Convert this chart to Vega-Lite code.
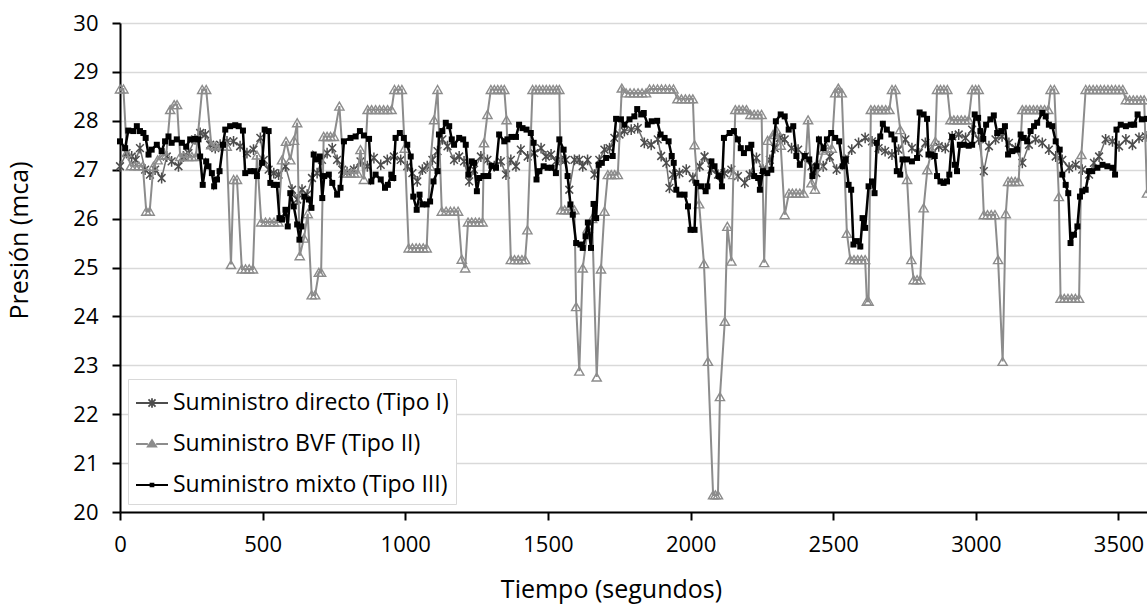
{
"$schema":"https://vega.github.io/schema/vega-lite/v6.json",
"width":1027,"height":489,
"autosize":{"type":"none"},
"padding":{"left":120,"top":23,"right":0,"bottom":96},
"background":"white",
"config":{"view":{"stroke":null},"font":"Open Sans"},
"data":{"values":[
{"s":"I","t":0,"p":27.07},{"s":"I","t":23,"p":27.34},{"s":"I","t":41,"p":27.27},{"s":"I","t":55,"p":27.2},{"s":"I","t":70,"p":27.44},{"s":"I","t":88,"p":27.0},{"s":"I","t":105,"p":26.9},{"s":"I","t":123,"p":27.0},{"s":"I","t":146,"p":26.83},{"s":"I","t":164,"p":27.27},{"s":"I","t":181,"p":27.17},{"s":"I","t":205,"p":27.07},{"s":"I","t":222,"p":27.27},{"s":"I","t":240,"p":27.34},{"s":"I","t":263,"p":27.62},{"s":"I","t":281,"p":27.75},{"s":"I","t":299,"p":27.72},{"s":"I","t":316,"p":27.51},{"s":"I","t":334,"p":27.44},{"s":"I","t":351,"p":27.51},{"s":"I","t":375,"p":27.58},{"s":"I","t":398,"p":27.58},{"s":"I","t":421,"p":27.48},{"s":"I","t":445,"p":27.34},{"s":"I","t":468,"p":27.41},{"s":"I","t":492,"p":27.65},{"s":"I","t":504,"p":27.2},{"s":"I","t":521,"p":27.0},{"s":"I","t":539,"p":26.93},{"s":"I","t":556,"p":26.9},{"s":"I","t":580,"p":27.07},{"s":"I","t":603,"p":26.59},{"s":"I","t":621,"p":26.39},{"s":"I","t":638,"p":26.59},{"s":"I","t":656,"p":26.49},{"s":"I","t":673,"p":26.83},{"s":"I","t":691,"p":26.93},{"s":"I","t":708,"p":27.2},{"s":"I","t":726,"p":27.34},{"s":"I","t":744,"p":27.44},{"s":"I","t":761,"p":27.2},{"s":"I","t":779,"p":27.0},{"s":"I","t":796,"p":26.95},{"s":"I","t":820,"p":27.0},{"s":"I","t":843,"p":27.17},{"s":"I","t":867,"p":27.07},{"s":"I","t":890,"p":27.24},{"s":"I","t":914,"p":27.1},{"s":"I","t":937,"p":27.2},{"s":"I","t":960,"p":27.27},{"s":"I","t":984,"p":27.2},{"s":"I","t":1007,"p":27.07},{"s":"I","t":1025,"p":26.93},{"s":"I","t":1042,"p":26.76},{"s":"I","t":1060,"p":27.0},{"s":"I","t":1077,"p":27.07},{"s":"I","t":1095,"p":27.2},{"s":"I","t":1113,"p":27.38},{"s":"I","t":1130,"p":27.62},{"s":"I","t":1148,"p":27.48},{"s":"I","t":1171,"p":27.2},{"s":"I","t":1189,"p":27.27},{"s":"I","t":1206,"p":27.17},{"s":"I","t":1224,"p":26.76},{"s":"I","t":1241,"p":27.0},{"s":"I","t":1265,"p":27.27},{"s":"I","t":1288,"p":27.2},{"s":"I","t":1312,"p":27.07},{"s":"I","t":1335,"p":27.17},{"s":"I","t":1353,"p":26.9},{"s":"I","t":1370,"p":27.2},{"s":"I","t":1388,"p":27.07},{"s":"I","t":1405,"p":27.41},{"s":"I","t":1429,"p":27.27},{"s":"I","t":1452,"p":27.34},{"s":"I","t":1476,"p":27.44},{"s":"I","t":1493,"p":27.27},{"s":"I","t":1511,"p":27.31},{"s":"I","t":1528,"p":27.17},{"s":"I","t":1546,"p":27.2},{"s":"I","t":1563,"p":27.2},{"s":"I","t":1575,"p":26.59},{"s":"I","t":1593,"p":27.2},{"s":"I","t":1610,"p":27.2},{"s":"I","t":1622,"p":27.07},{"s":"I","t":1639,"p":27.2},{"s":"I","t":1663,"p":26.9},{"s":"I","t":1680,"p":27.2},{"s":"I","t":1698,"p":27.41},{"s":"I","t":1716,"p":27.44},{"s":"I","t":1733,"p":27.65},{"s":"I","t":1751,"p":27.72},{"s":"I","t":1768,"p":27.79},{"s":"I","t":1792,"p":27.82},{"s":"I","t":1815,"p":27.85},{"s":"I","t":1838,"p":27.55},{"s":"I","t":1862,"p":27.51},{"s":"I","t":1885,"p":27.62},{"s":"I","t":1897,"p":27.28},{"s":"I","t":1915,"p":27.14},{"s":"I","t":1926,"p":26.63},{"s":"I","t":1938,"p":26.9},{"s":"I","t":1961,"p":26.93},{"s":"I","t":1985,"p":27.0},{"s":"I","t":2008,"p":26.83},{"s":"I","t":2032,"p":27.07},{"s":"I","t":2049,"p":27.27},{"s":"I","t":2073,"p":27.0},{"s":"I","t":2096,"p":26.9},{"s":"I","t":2119,"p":26.93},{"s":"I","t":2143,"p":27.0},{"s":"I","t":2166,"p":26.87},{"s":"I","t":2190,"p":26.73},{"s":"I","t":2207,"p":26.9},{"s":"I","t":2231,"p":27.24},{"s":"I","t":2254,"p":27.0},{"s":"I","t":2278,"p":27.2},{"s":"I","t":2295,"p":27.44},{"s":"I","t":2313,"p":27.65},{"s":"I","t":2330,"p":27.62},{"s":"I","t":2354,"p":27.44},{"s":"I","t":2377,"p":27.41},{"s":"I","t":2401,"p":27.27},{"s":"I","t":2424,"p":27.07},{"s":"I","t":2441,"p":26.93},{"s":"I","t":2465,"p":27.07},{"s":"I","t":2488,"p":27.27},{"s":"I","t":2512,"p":27.0},{"s":"I","t":2542,"p":27.2},{"s":"I","t":2565,"p":27.41},{"s":"I","t":2589,"p":27.55},{"s":"I","t":2612,"p":27.65},{"s":"I","t":2636,"p":27.58},{"s":"I","t":2659,"p":27.44},{"s":"I","t":2682,"p":27.38},{"s":"I","t":2706,"p":27.31},{"s":"I","t":2729,"p":27.41},{"s":"I","t":2753,"p":27.62},{"s":"I","t":2776,"p":27.44},{"s":"I","t":2800,"p":27.34},{"s":"I","t":2823,"p":27.55},{"s":"I","t":2846,"p":27.31},{"s":"I","t":2870,"p":27.48},{"s":"I","t":2893,"p":27.44},{"s":"I","t":2917,"p":27.68},{"s":"I","t":2940,"p":27.72},{"s":"I","t":2964,"p":27.65},{"s":"I","t":2987,"p":27.82},{"s":"I","t":3010,"p":27.62},{"s":"I","t":3028,"p":26.97},{"s":"I","t":3046,"p":27.48},{"s":"I","t":3069,"p":27.62},{"s":"I","t":3092,"p":27.68},{"s":"I","t":3116,"p":27.55},{"s":"I","t":3139,"p":27.44},{"s":"I","t":3163,"p":27.14},{"s":"I","t":3186,"p":27.51},{"s":"I","t":3209,"p":27.62},{"s":"I","t":3233,"p":27.55},{"s":"I","t":3256,"p":27.41},{"s":"I","t":3280,"p":27.27},{"s":"I","t":3303,"p":27.2},{"s":"I","t":3327,"p":27.04},{"s":"I","t":3350,"p":27.1},{"s":"I","t":3373,"p":27.0},{"s":"I","t":3397,"p":26.9},{"s":"I","t":3414,"p":27.14},{"s":"I","t":3432,"p":27.27},{"s":"I","t":3455,"p":27.62},{"s":"I","t":3479,"p":27.58},{"s":"I","t":3502,"p":27.48},{"s":"I","t":3526,"p":27.62},{"s":"I","t":3549,"p":27.51},{"s":"I","t":3572,"p":27.65},{"s":"I","t":3596,"p":27.68},
{"s":"II","t":0,"p":28.65},{"s":"II","t":12,"p":28.65},{"s":"II","t":24,"p":27.35},{"s":"II","t":38,"p":27.08},{"s":"II","t":52,"p":27.08},{"s":"II","t":66,"p":27.08},{"s":"II","t":80,"p":27.08},{"s":"II","t":92,"p":26.15},{"s":"II","t":104,"p":26.15},{"s":"II","t":117,"p":27.07},{"s":"II","t":132,"p":27.2},{"s":"II","t":148,"p":27.3},{"s":"II","t":162,"p":27.3},{"s":"II","t":176,"p":28.23},{"s":"II","t":190,"p":28.33},{"s":"II","t":200,"p":28.33},{"s":"II","t":211,"p":27.27},{"s":"II","t":224,"p":27.27},{"s":"II","t":238,"p":27.27},{"s":"II","t":252,"p":27.27},{"s":"II","t":266,"p":27.27},{"s":"II","t":288,"p":28.64},{"s":"II","t":302,"p":28.64},{"s":"II","t":320,"p":27.51},{"s":"II","t":334,"p":27.48},{"s":"II","t":348,"p":27.48},{"s":"II","t":362,"p":27.48},{"s":"II","t":374,"p":27.48},{"s":"II","t":389,"p":25.06},{"s":"II","t":398,"p":26.8},{"s":"II","t":410,"p":26.8},{"s":"II","t":427,"p":24.97},{"s":"II","t":440,"p":24.97},{"s":"II","t":453,"p":24.97},{"s":"II","t":466,"p":24.97},{"s":"II","t":480,"p":27.3},{"s":"II","t":495,"p":25.93},{"s":"II","t":510,"p":25.93},{"s":"II","t":525,"p":25.93},{"s":"II","t":540,"p":25.93},{"s":"II","t":555,"p":25.93},{"s":"II","t":568,"p":27.2},{"s":"II","t":582,"p":27.58},{"s":"II","t":597,"p":27.2},{"s":"II","t":610,"p":27.6},{"s":"II","t":621,"p":27.96},{"s":"II","t":630,"p":25.24},{"s":"II","t":645,"p":25.6},{"s":"II","t":658,"p":26.1},{"s":"II","t":672,"p":24.44},{"s":"II","t":684,"p":24.44},{"s":"II","t":697,"p":24.9},{"s":"II","t":705,"p":24.9},{"s":"II","t":714,"p":27.68},{"s":"II","t":726,"p":27.68},{"s":"II","t":738,"p":27.68},{"s":"II","t":750,"p":27.68},{"s":"II","t":769,"p":28.3},{"s":"II","t":785,"p":26.93},{"s":"II","t":797,"p":26.93},{"s":"II","t":809,"p":26.93},{"s":"II","t":821,"p":26.93},{"s":"II","t":833,"p":26.93},{"s":"II","t":843,"p":27.41},{"s":"II","t":855,"p":26.8},{"s":"II","t":868,"p":28.23},{"s":"II","t":882,"p":28.23},{"s":"II","t":896,"p":28.23},{"s":"II","t":910,"p":28.23},{"s":"II","t":924,"p":28.23},{"s":"II","t":938,"p":28.23},{"s":"II","t":952,"p":28.23},{"s":"II","t":962,"p":28.64},{"s":"II","t":976,"p":28.64},{"s":"II","t":988,"p":28.64},{"s":"II","t":998,"p":27.44},{"s":"II","t":1012,"p":25.4},{"s":"II","t":1025,"p":25.4},{"s":"II","t":1038,"p":25.4},{"s":"II","t":1050,"p":25.4},{"s":"II","t":1063,"p":25.4},{"s":"II","t":1075,"p":25.4},{"s":"II","t":1087,"p":27.07},{"s":"II","t":1101,"p":28.02},{"s":"II","t":1113,"p":28.64},{"s":"II","t":1128,"p":26.15},{"s":"II","t":1143,"p":26.15},{"s":"II","t":1158,"p":26.15},{"s":"II","t":1171,"p":26.15},{"s":"II","t":1185,"p":26.15},{"s":"II","t":1198,"p":25.17},{"s":"II","t":1210,"p":24.99},{"s":"II","t":1220,"p":25.93},{"s":"II","t":1233,"p":25.93},{"s":"II","t":1246,"p":25.93},{"s":"II","t":1259,"p":25.93},{"s":"II","t":1271,"p":25.93},{"s":"II","t":1276,"p":27.55},{"s":"II","t":1288,"p":28.13},{"s":"II","t":1300,"p":28.64},{"s":"II","t":1312,"p":28.64},{"s":"II","t":1324,"p":28.64},{"s":"II","t":1336,"p":28.64},{"s":"II","t":1347,"p":28.64},{"s":"II","t":1355,"p":28.02},{"s":"II","t":1370,"p":25.16},{"s":"II","t":1383,"p":25.16},{"s":"II","t":1396,"p":25.16},{"s":"II","t":1409,"p":25.16},{"s":"II","t":1420,"p":25.16},{"s":"II","t":1428,"p":25.77},{"s":"II","t":1446,"p":28.64},{"s":"II","t":1458,"p":28.64},{"s":"II","t":1470,"p":28.64},{"s":"II","t":1482,"p":28.64},{"s":"II","t":1494,"p":28.64},{"s":"II","t":1506,"p":28.64},{"s":"II","t":1518,"p":28.64},{"s":"II","t":1530,"p":28.64},{"s":"II","t":1540,"p":28.64},{"s":"II","t":1547,"p":26.18},{"s":"II","t":1559,"p":26.18},{"s":"II","t":1571,"p":26.18},{"s":"II","t":1583,"p":26.18},{"s":"II","t":1593,"p":26.18},{"s":"II","t":1599,"p":24.2},{"s":"II","t":1610,"p":22.88},{"s":"II","t":1622,"p":24.99},{"s":"II","t":1640,"p":25.8},{"s":"II","t":1655,"p":26.0},{"s":"II","t":1671,"p":22.76},{"s":"II","t":1686,"p":24.97},{"s":"II","t":1698,"p":26.15},{"s":"II","t":1710,"p":26.9},{"s":"II","t":1722,"p":26.9},{"s":"II","t":1734,"p":26.9},{"s":"II","t":1745,"p":26.9},{"s":"II","t":1759,"p":28.67},{"s":"II","t":1774,"p":28.57},{"s":"II","t":1788,"p":28.57},{"s":"II","t":1802,"p":28.57},{"s":"II","t":1816,"p":28.57},{"s":"II","t":1830,"p":28.57},{"s":"II","t":1844,"p":28.57},{"s":"II","t":1856,"p":28.65},{"s":"II","t":1870,"p":28.65},{"s":"II","t":1884,"p":28.65},{"s":"II","t":1898,"p":28.65},{"s":"II","t":1912,"p":28.65},{"s":"II","t":1926,"p":28.65},{"s":"II","t":1940,"p":28.65},{"s":"II","t":1954,"p":28.45},{"s":"II","t":1968,"p":28.45},{"s":"II","t":1982,"p":28.45},{"s":"II","t":1996,"p":28.45},{"s":"II","t":2008,"p":28.45},{"s":"II","t":2014,"p":27.51},{"s":"II","t":2030,"p":26.3},{"s":"II","t":2047,"p":25.08},{"s":"II","t":2061,"p":23.08},{"s":"II","t":2079,"p":20.35},{"s":"II","t":2087,"p":20.35},{"s":"II","t":2096,"p":20.35},{"s":"II","t":2103,"p":22.36},{"s":"II","t":2120,"p":23.9},{"s":"II","t":2129,"p":25.84},{"s":"II","t":2143,"p":25.13},{"s":"II","t":2150,"p":26.9},{"s":"II","t":2157,"p":28.23},{"s":"II","t":2170,"p":28.23},{"s":"II","t":2183,"p":28.23},{"s":"II","t":2196,"p":28.23},{"s":"II","t":2210,"p":28.13},{"s":"II","t":2223,"p":28.13},{"s":"II","t":2236,"p":28.13},{"s":"II","t":2249,"p":28.13},{"s":"II","t":2258,"p":25.1},{"s":"II","t":2270,"p":27.6},{"s":"II","t":2289,"p":27.72},{"s":"II","t":2302,"p":27.8},{"s":"II","t":2316,"p":27.5},{"s":"II","t":2330,"p":26.08},{"s":"II","t":2345,"p":26.52},{"s":"II","t":2357,"p":26.52},{"s":"II","t":2370,"p":26.52},{"s":"II","t":2383,"p":26.52},{"s":"II","t":2396,"p":26.52},{"s":"II","t":2412,"p":28.02},{"s":"II","t":2424,"p":26.73},{"s":"II","t":2436,"p":26.6},{"s":"II","t":2450,"p":27.1},{"s":"II","t":2465,"p":27.4},{"s":"II","t":2480,"p":27.44},{"s":"II","t":2495,"p":27.44},{"s":"II","t":2507,"p":28.57},{"s":"II","t":2518,"p":28.67},{"s":"II","t":2530,"p":28.57},{"s":"II","t":2548,"p":25.7},{"s":"II","t":2560,"p":25.16},{"s":"II","t":2573,"p":25.16},{"s":"II","t":2586,"p":25.16},{"s":"II","t":2599,"p":25.16},{"s":"II","t":2612,"p":25.16},{"s":"II","t":2618,"p":24.31},{"s":"II","t":2624,"p":24.31},{"s":"II","t":2632,"p":28.23},{"s":"II","t":2645,"p":28.23},{"s":"II","t":2658,"p":28.23},{"s":"II","t":2671,"p":28.23},{"s":"II","t":2684,"p":28.23},{"s":"II","t":2697,"p":28.23},{"s":"II","t":2706,"p":28.64},{"s":"II","t":2718,"p":28.64},{"s":"II","t":2735,"p":27.82},{"s":"II","t":2759,"p":26.8},{"s":"II","t":2774,"p":25.16},{"s":"II","t":2782,"p":24.75},{"s":"II","t":2794,"p":24.75},{"s":"II","t":2805,"p":24.75},{"s":"II","t":2817,"p":26.22},{"s":"II","t":2830,"p":27.0},{"s":"II","t":2845,"p":27.4},{"s":"II","t":2858,"p":27.58},{"s":"II","t":2864,"p":28.64},{"s":"II","t":2876,"p":28.64},{"s":"II","t":2888,"p":28.64},{"s":"II","t":2900,"p":28.64},{"s":"II","t":2911,"p":28.02},{"s":"II","t":2923,"p":28.02},{"s":"II","t":2936,"p":28.02},{"s":"II","t":2949,"p":28.02},{"s":"II","t":2962,"p":28.02},{"s":"II","t":2975,"p":28.02},{"s":"II","t":2987,"p":28.64},{"s":"II","t":2999,"p":28.64},{"s":"II","t":3010,"p":28.64},{"s":"II","t":3028,"p":26.08},{"s":"II","t":3041,"p":26.08},{"s":"II","t":3054,"p":26.08},{"s":"II","t":3067,"p":26.08},{"s":"II","t":3078,"p":25.16},{"s":"II","t":3094,"p":23.08},{"s":"II","t":3105,"p":26.1},{"s":"II","t":3113,"p":26.76},{"s":"II","t":3125,"p":26.76},{"s":"II","t":3138,"p":26.76},{"s":"II","t":3150,"p":26.76},{"s":"II","t":3163,"p":28.23},{"s":"II","t":3176,"p":28.23},{"s":"II","t":3189,"p":28.23},{"s":"II","t":3202,"p":28.23},{"s":"II","t":3215,"p":28.23},{"s":"II","t":3228,"p":28.23},{"s":"II","t":3241,"p":28.23},{"s":"II","t":3254,"p":28.23},{"s":"II","t":3262,"p":28.64},{"s":"II","t":3275,"p":28.64},{"s":"II","t":3291,"p":26.45},{"s":"II","t":3297,"p":24.37},{"s":"II","t":3310,"p":24.37},{"s":"II","t":3323,"p":24.37},{"s":"II","t":3336,"p":24.37},{"s":"II","t":3349,"p":24.37},{"s":"II","t":3362,"p":24.37},{"s":"II","t":3370,"p":27.31},{"s":"II","t":3385,"p":28.64},{"s":"II","t":3398,"p":28.64},{"s":"II","t":3411,"p":28.64},{"s":"II","t":3424,"p":28.64},{"s":"II","t":3437,"p":28.64},{"s":"II","t":3450,"p":28.64},{"s":"II","t":3463,"p":28.64},{"s":"II","t":3476,"p":28.64},{"s":"II","t":3489,"p":28.64},{"s":"II","t":3502,"p":28.64},{"s":"II","t":3515,"p":28.64},{"s":"II","t":3526,"p":28.43},{"s":"II","t":3539,"p":28.43},{"s":"II","t":3552,"p":28.43},{"s":"II","t":3565,"p":28.43},{"s":"II","t":3578,"p":28.43},{"s":"II","t":3590,"p":28.43},{"s":"II","t":3600,"p":26.52},
{"s":"III","t":0,"p":27.58},{"s":"III","t":18,"p":27.44},{"s":"III","t":29,"p":27.8},{"s":"III","t":47,"p":27.79},{"s":"III","t":59,"p":27.89},{"s":"III","t":70,"p":27.79},{"s":"III","t":82,"p":27.75},{"s":"III","t":90,"p":27.65},{"s":"III","t":100,"p":27.31},{"s":"III","t":111,"p":27.41},{"s":"III","t":129,"p":27.51},{"s":"III","t":146,"p":27.38},{"s":"III","t":158,"p":27.58},{"s":"III","t":170,"p":27.68},{"s":"III","t":181,"p":27.55},{"s":"III","t":199,"p":27.62},{"s":"III","t":217,"p":27.55},{"s":"III","t":232,"p":27.47},{"s":"III","t":246,"p":27.62},{"s":"III","t":263,"p":27.63},{"s":"III","t":275,"p":27.62},{"s":"III","t":281,"p":27.27},{"s":"III","t":290,"p":26.69},{"s":"III","t":302,"p":27.17},{"s":"III","t":310,"p":27.07},{"s":"III","t":322,"p":26.93},{"s":"III","t":330,"p":26.66},{"s":"III","t":340,"p":26.8},{"s":"III","t":349,"p":26.97},{"s":"III","t":361,"p":27.51},{"s":"III","t":369,"p":27.82},{"s":"III","t":386,"p":27.89},{"s":"III","t":404,"p":27.91},{"s":"III","t":416,"p":27.89},{"s":"III","t":431,"p":27.8},{"s":"III","t":439,"p":26.93},{"s":"III","t":457,"p":26.97},{"s":"III","t":471,"p":26.97},{"s":"III","t":480,"p":26.87},{"s":"III","t":498,"p":27.14},{"s":"III","t":507,"p":27.82},{"s":"III","t":521,"p":27.79},{"s":"III","t":527,"p":26.73},{"s":"III","t":539,"p":26.69},{"s":"III","t":550,"p":26.69},{"s":"III","t":559,"p":26.01},{"s":"III","t":568,"p":25.98},{"s":"III","t":580,"p":26.18},{"s":"III","t":588,"p":25.84},{"s":"III","t":597,"p":26.52},{"s":"III","t":609,"p":26.25},{"s":"III","t":621,"p":25.88},{"s":"III","t":629,"p":25.57},{"s":"III","t":636,"p":25.84},{"s":"III","t":646,"p":26.45},{"s":"III","t":662,"p":26.39},{"s":"III","t":671,"p":26.22},{"s":"III","t":679,"p":27.31},{"s":"III","t":688,"p":27.21},{"s":"III","t":700,"p":27.27},{"s":"III","t":709,"p":26.42},{"s":"III","t":716,"p":26.87},{"s":"III","t":732,"p":26.9},{"s":"III","t":744,"p":26.73},{"s":"III","t":761,"p":26.49},{"s":"III","t":773,"p":26.63},{"s":"III","t":785,"p":27.58},{"s":"III","t":808,"p":27.65},{"s":"III","t":826,"p":27.68},{"s":"III","t":841,"p":27.79},{"s":"III","t":855,"p":27.7},{"s":"III","t":873,"p":27.63},{"s":"III","t":881,"p":26.76},{"s":"III","t":896,"p":26.9},{"s":"III","t":914,"p":26.8},{"s":"III","t":929,"p":26.63},{"s":"III","t":939,"p":26.69},{"s":"III","t":951,"p":26.9},{"s":"III","t":958,"p":26.83},{"s":"III","t":966,"p":27.65},{"s":"III","t":981,"p":27.75},{"s":"III","t":995,"p":27.65},{"s":"III","t":1007,"p":27.51},{"s":"III","t":1019,"p":27.27},{"s":"III","t":1028,"p":26.45},{"s":"III","t":1040,"p":26.18},{"s":"III","t":1050,"p":26.49},{"s":"III","t":1060,"p":26.29},{"s":"III","t":1075,"p":26.29},{"s":"III","t":1087,"p":26.35},{"s":"III","t":1099,"p":26.76},{"s":"III","t":1113,"p":26.97},{"s":"III","t":1118,"p":27.72},{"s":"III","t":1130,"p":27.79},{"s":"III","t":1142,"p":27.96},{"s":"III","t":1154,"p":27.89},{"s":"III","t":1163,"p":27.62},{"s":"III","t":1171,"p":27.51},{"s":"III","t":1189,"p":27.65},{"s":"III","t":1203,"p":27.62},{"s":"III","t":1212,"p":27.51},{"s":"III","t":1221,"p":26.9},{"s":"III","t":1233,"p":27.17},{"s":"III","t":1241,"p":27.14},{"s":"III","t":1251,"p":26.56},{"s":"III","t":1259,"p":26.83},{"s":"III","t":1274,"p":26.87},{"s":"III","t":1291,"p":26.87},{"s":"III","t":1302,"p":27.08},{"s":"III","t":1318,"p":27.04},{"s":"III","t":1329,"p":27.72},{"s":"III","t":1347,"p":27.58},{"s":"III","t":1358,"p":27.62},{"s":"III","t":1372,"p":27.67},{"s":"III","t":1388,"p":27.67},{"s":"III","t":1399,"p":27.92},{"s":"III","t":1411,"p":27.85},{"s":"III","t":1425,"p":27.82},{"s":"III","t":1440,"p":27.75},{"s":"III","t":1450,"p":27.55},{"s":"III","t":1460,"p":26.8},{"s":"III","t":1470,"p":26.97},{"s":"III","t":1485,"p":27.07},{"s":"III","t":1499,"p":27.04},{"s":"III","t":1513,"p":27.04},{"s":"III","t":1528,"p":26.93},{"s":"III","t":1540,"p":27.62},{"s":"III","t":1555,"p":27.41},{"s":"III","t":1569,"p":26.87},{"s":"III","t":1579,"p":26.29},{"s":"III","t":1587,"p":26.08},{"s":"III","t":1599,"p":25.5},{"s":"III","t":1614,"p":25.47},{"s":"III","t":1622,"p":25.4},{"s":"III","t":1632,"p":25.64},{"s":"III","t":1640,"p":25.92},{"s":"III","t":1651,"p":25.4},{"s":"III","t":1660,"p":26.3},{"s":"III","t":1669,"p":26.01},{"s":"III","t":1678,"p":27.1},{"s":"III","t":1689,"p":27.14},{"s":"III","t":1704,"p":27.24},{"s":"III","t":1727,"p":27.28},{"s":"III","t":1739,"p":28.04},{"s":"III","t":1756,"p":28.03},{"s":"III","t":1768,"p":27.92},{"s":"III","t":1786,"p":28.03},{"s":"III","t":1803,"p":28.09},{"s":"III","t":1813,"p":28.24},{"s":"III","t":1827,"p":28.13},{"s":"III","t":1836,"p":28.16},{"s":"III","t":1850,"p":27.92},{"s":"III","t":1864,"p":27.99},{"s":"III","t":1883,"p":28.0},{"s":"III","t":1895,"p":27.72},{"s":"III","t":1909,"p":27.65},{"s":"III","t":1923,"p":27.58},{"s":"III","t":1934,"p":27.28},{"s":"III","t":1941,"p":27.14},{"s":"III","t":1950,"p":26.59},{"s":"III","t":1961,"p":26.49},{"s":"III","t":1979,"p":26.49},{"s":"III","t":1991,"p":26.25},{"s":"III","t":2000,"p":25.77},{"s":"III","t":2014,"p":25.77},{"s":"III","t":2020,"p":26.73},{"s":"III","t":2037,"p":26.66},{"s":"III","t":2053,"p":26.56},{"s":"III","t":2059,"p":26.66},{"s":"III","t":2073,"p":27.17},{"s":"III","t":2084,"p":27.07},{"s":"III","t":2098,"p":26.87},{"s":"III","t":2110,"p":26.66},{"s":"III","t":2117,"p":27.65},{"s":"III","t":2137,"p":27.75},{"s":"III","t":2152,"p":27.79},{"s":"III","t":2166,"p":27.62},{"s":"III","t":2176,"p":27.44},{"s":"III","t":2187,"p":27.34},{"s":"III","t":2201,"p":27.44},{"s":"III","t":2213,"p":27.51},{"s":"III","t":2223,"p":26.87},{"s":"III","t":2237,"p":26.83},{"s":"III","t":2243,"p":26.59},{"s":"III","t":2254,"p":26.97},{"s":"III","t":2269,"p":26.93},{"s":"III","t":2283,"p":27.0},{"s":"III","t":2299,"p":27.99},{"s":"III","t":2316,"p":28.13},{"s":"III","t":2330,"p":28.09},{"s":"III","t":2344,"p":27.82},{"s":"III","t":2360,"p":27.89},{"s":"III","t":2371,"p":27.28},{"s":"III","t":2383,"p":27.1},{"s":"III","t":2400,"p":27.28},{"s":"III","t":2416,"p":27.21},{"s":"III","t":2427,"p":26.87},{"s":"III","t":2441,"p":27.07},{"s":"III","t":2450,"p":27.62},{"s":"III","t":2466,"p":27.44},{"s":"III","t":2478,"p":27.62},{"s":"III","t":2493,"p":27.75},{"s":"III","t":2507,"p":27.65},{"s":"III","t":2521,"p":27.58},{"s":"III","t":2533,"p":27.07},{"s":"III","t":2544,"p":27.21},{"s":"III","t":2554,"p":26.69},{"s":"III","t":2563,"p":26.59},{"s":"III","t":2571,"p":25.47},{"s":"III","t":2583,"p":25.54},{"s":"III","t":2595,"p":25.43},{"s":"III","t":2603,"p":26.01},{"s":"III","t":2612,"p":25.81},{"s":"III","t":2624,"p":26.66},{"s":"III","t":2636,"p":26.76},{"s":"III","t":2645,"p":26.52},{"s":"III","t":2653,"p":27.55},{"s":"III","t":2665,"p":27.68},{"s":"III","t":2674,"p":27.94},{"s":"III","t":2688,"p":27.82},{"s":"III","t":2704,"p":27.72},{"s":"III","t":2715,"p":27.62},{"s":"III","t":2723,"p":26.97},{"s":"III","t":2735,"p":26.9},{"s":"III","t":2743,"p":27.21},{"s":"III","t":2759,"p":27.21},{"s":"III","t":2776,"p":27.17},{"s":"III","t":2794,"p":27.24},{"s":"III","t":2803,"p":28.17},{"s":"III","t":2817,"p":28.13},{"s":"III","t":2829,"p":28.04},{"s":"III","t":2834,"p":27.31},{"s":"III","t":2844,"p":27.31},{"s":"III","t":2856,"p":27.28},{"s":"III","t":2864,"p":26.87},{"s":"III","t":2876,"p":26.76},{"s":"III","t":2887,"p":26.73},{"s":"III","t":2899,"p":26.76},{"s":"III","t":2907,"p":26.9},{"s":"III","t":2917,"p":27.67},{"s":"III","t":2926,"p":27.1},{"s":"III","t":2934,"p":26.97},{"s":"III","t":2944,"p":27.51},{"s":"III","t":2958,"p":27.51},{"s":"III","t":2975,"p":27.49},{"s":"III","t":2987,"p":27.51},{"s":"III","t":2996,"p":28.13},{"s":"III","t":3008,"p":28.06},{"s":"III","t":3016,"p":27.79},{"s":"III","t":3026,"p":27.63},{"s":"III","t":3036,"p":27.92},{"s":"III","t":3051,"p":28.03},{"s":"III","t":3063,"p":28.11},{"s":"III","t":3075,"p":27.75},{"s":"III","t":3089,"p":27.79},{"s":"III","t":3102,"p":27.89},{"s":"III","t":3113,"p":27.31},{"s":"III","t":3127,"p":27.38},{"s":"III","t":3145,"p":27.41},{"s":"III","t":3157,"p":27.72},{"s":"III","t":3168,"p":27.65},{"s":"III","t":3180,"p":27.58},{"s":"III","t":3192,"p":27.79},{"s":"III","t":3204,"p":27.89},{"s":"III","t":3215,"p":27.96},{"s":"III","t":3233,"p":28.16},{"s":"III","t":3245,"p":28.09},{"s":"III","t":3256,"p":27.92},{"s":"III","t":3268,"p":27.89},{"s":"III","t":3280,"p":27.58},{"s":"III","t":3294,"p":27.41},{"s":"III","t":3303,"p":26.9},{"s":"III","t":3315,"p":26.69},{"s":"III","t":3324,"p":26.52},{"s":"III","t":3332,"p":25.5},{"s":"III","t":3344,"p":25.67},{"s":"III","t":3356,"p":25.84},{"s":"III","t":3365,"p":26.45},{"s":"III","t":3373,"p":26.56},{"s":"III","t":3385,"p":26.59},{"s":"III","t":3397,"p":26.97},{"s":"III","t":3408,"p":26.97},{"s":"III","t":3426,"p":27.04},{"s":"III","t":3444,"p":27.1},{"s":"III","t":3461,"p":27.07},{"s":"III","t":3479,"p":27.04},{"s":"III","t":3488,"p":26.9},{"s":"III","t":3493,"p":27.82},{"s":"III","t":3508,"p":27.92},{"s":"III","t":3526,"p":27.89},{"s":"III","t":3543,"p":27.92},{"s":"III","t":3555,"p":27.92},{"s":"III","t":3567,"p":28.13},{"s":"III","t":3582,"p":28.03},{"s":"III","t":3600,"p":28.04}
]},
"encoding":{
"x":{"field":"t","type":"quantitative","scale":{"domain":[0,3600],"nice":false},
"axis":{"title":"Tiempo (segundos)","format":"d","grid":false,"values":[0,500,1000,1500,2000,2500,3000,3500],"labelFontSize":22,"labelColor":"#000","labelPadding":14,"labelOverlap":false,"labelFlush":false,"domainColor":"#000","domainWidth":2,"tickColor":"#000","tickWidth":2,"tickSize":8,"titleFontSize":25,"titleFontWeight":"normal","titleColor":"#000","titleX":491,"titleY":85,"titleBaseline":"alphabetic","titleAlign":"center","titleAnchor":null}},
"y":{"field":"p","type":"quantitative","scale":{"domain":[20,30],"nice":false,"zero":false},
"axis":{"title":"Presión (mca)","format":"d","values":[20,21,22,23,24,25,26,27,28,29,30],"grid":true,"gridColor":"#d9d9d9","gridWidth":1.5,"labelFontSize":22,"labelColor":"#000","labelPadding":14,"labelOverlap":false,"labelFlush":false,"domainColor":"#000","domainWidth":2,"tickColor":"#000","tickWidth":2,"tickSize":8,"titleFontSize":25,"titleFontWeight":"normal","titleColor":"#000","titleX":-93,"titleY":217,"titleAngle":-90,"titleBaseline":"alphabetic","titleAlign":"center","titleAnchor":null}}
},
"layer":[
{"transform":[{"filter":"datum.s == 'I'"}],"mark":{"type":"line","strokeWidth":1.5,"color":"#6f6f6f"}},
{"transform":[{"filter":"datum.s == 'I'"}],"mark":{"type":"point","shape":"M-1,-1L1,1M-1,1L1,-1M0,-1.4V1.4","filled":false,"size":60,"strokeWidth":1.5,"opacity":1},
 "encoding":{"color":{"field":"s","type":"nominal","scale":{"domain":["I","II","III"],"range":["#4d4d4d","#8c8c8c","#000000"]},
 "legend":{"orient":"bottom-left","offset":8,"title":null,
  "labelExpr":"datum.value == 'I' ? 'Suministro directo (Tipo I)' : datum.value == 'II' ? 'Suministro BVF (Tipo II)' : 'Suministro mixto (Tipo III)'",
  "labelFont":"Open Sans","labelFontSize":23,"labelColor":"#000","labelLimit":400,
  "strokeColor":"#d9d9d9","fillColor":"white","padding":7,"rowPadding":12,"labelOffset":4,"symbolSize":1024,
  "encoding":{"symbols":{
   "shape":{"value":{"expr":"datum.value == 'I' ? 'M-1,0H1M-0.22,-0.22L0.22,0.22M-0.22,0.22L0.22,-0.22M0,-0.3V0.3' : datum.value == 'II' ? 'M-1,0H-0.26M0.26,0H1M-0.26,0.16L0,-0.24L0.26,0.16Z' : 'M-1,0H1M-0.09,-0.09H0.09V0.09H-0.09Z'"}},
   "stroke":{"value":{"expr":"datum.value == 'I' ? '#595959' : datum.value == 'II' ? '#8c8c8c' : '#000000'"}},
   "fill":{"value":{"expr":"datum.value == 'III' ? '#000000' : '#ffffff'"}},
   "strokeWidth":{"value":1.8},"opacity":{"value":1}}}}}}},
{"transform":[{"filter":"datum.s == 'II'"}],"mark":{"type":"line","strokeWidth":2,"color":"#8c8c8c"}},
{"transform":[{"filter":"datum.s == 'II'"}],"mark":{"type":"point","shape":"triangle-up","filled":false,"size":85,"strokeWidth":1.4,"opacity":1},
 "encoding":{"color":{"field":"s","type":"nominal"}}},
{"transform":[{"filter":"datum.s == 'III'"}],"mark":{"type":"line","strokeWidth":2.5,"color":"#000000"}},
{"transform":[{"filter":"datum.s == 'III'"}],"mark":{"type":"point","shape":"square","filled":true,"size":36,"opacity":1},
 "encoding":{"color":{"field":"s","type":"nominal"}}}
]
}
